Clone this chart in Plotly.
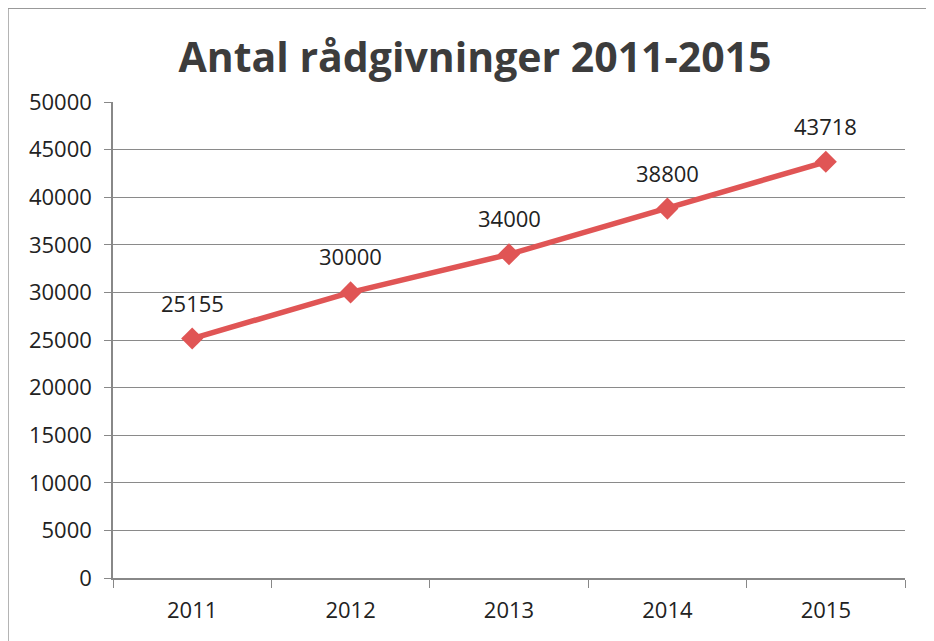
import plotly.graph_objects as go

years = ["2011", "2012", "2013", "2014", "2015"]
values = [25155, 30000, 34000, 38800, 43718]
y_ticks = list(range(0, 50001, 5000))

FONT = "Open Sans, Liberation Sans, sans-serif"

fig = go.Figure()
fig.add_trace(go.Scatter(
    x=years, y=values,
    mode="lines+markers",
    line=dict(color="#e05555", width=5.5),
    marker=dict(symbol="diamond", size=17, color="#e05555"),
    hoverinfo="x+y",
))
for i, v in enumerate(values):
    fig.add_annotation(x=i, y=v, xref="x", yref="y", text=str(v), showarrow=False, yshift=36,
                       font=dict(family=FONT, size=22, color="#222"))

fig.update_layout(
    width=934, height=641,
    margin=dict(l=105, r=37, t=94, b=71),
    paper_bgcolor="white", plot_bgcolor="white",
    showlegend=False,
    title=dict(text="<b>Antal rådgivninger 2011-2015</b>", x=0.5, xanchor="center",
               y=0.922, yanchor="middle",
               font=dict(family=FONT, size=41, color="#3c3c3c")),
    font=dict(family=FONT, size=22, color="#222"),
    xaxis=dict(type="category", range=[-0.5, 4.5], showgrid=False,
               showline=True, linecolor="#888", linewidth=1.5,
               ticks="outside", ticklen=8, tickcolor="#888", tickson="boundaries",
               ticklabelstandoff=12,
               tickfont=dict(size=22, color="#222")),
    yaxis=dict(range=[0, 50000], tickvals=y_ticks, ticktext=[str(t) for t in y_ticks],
               showgrid=True, gridcolor="#8a8a8a", gridwidth=1.2,
               showline=True, linecolor="#888", linewidth=1.5, zeroline=False,
               ticks="outside", ticklen=7, tickcolor="#888",
               ticklabelstandoff=8,
               tickfont=dict(size=22, color="#222")),
    shapes=[
        dict(type="line", xref="paper", yref="paper", x0=-0.1326, x1=-0.1326, y0=-0.16, y1=1.197,
             line=dict(color="#999", width=1.5)),
        dict(type="line", xref="paper", yref="paper", x0=-0.1326, x1=1.05, y0=1.197, y1=1.197,
             line=dict(color="#999", width=1.5)),
    ],
)
fig.write_html("out.html")
